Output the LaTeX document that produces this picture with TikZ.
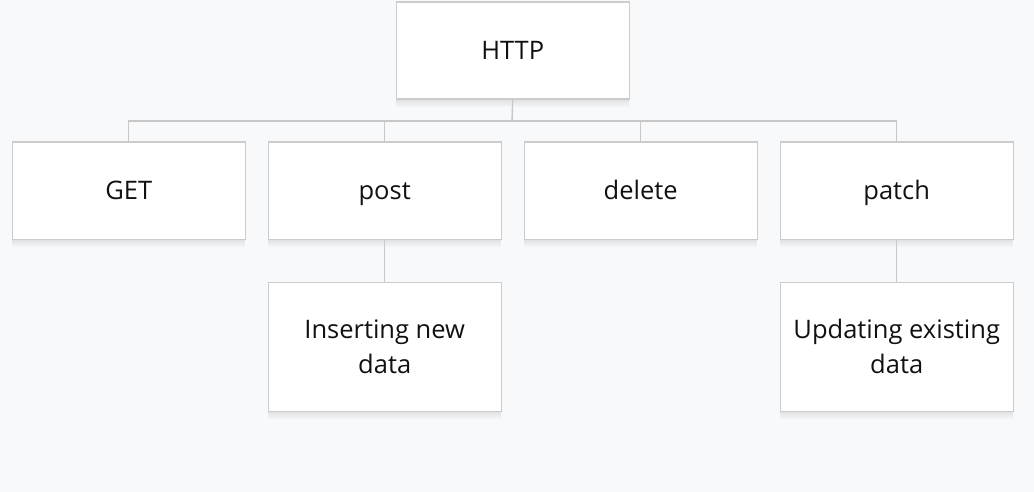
\documentclass[tikz,border=0pt]{standalone}
\usepackage{fontspec}
\setmainfont{Open Sans}
\definecolor{bgc}{HTML}{F8F9FA}
\definecolor{edgec}{HTML}{CCCCCC}
\definecolor{linec}{HTML}{C8C8C8}
\definecolor{txtc}{HTML}{111111}
\tikzset{
  softshadow/.style={preaction={fill=black, fill opacity=0.025, transform canvas={yshift=-#1}}},
  box/.style={draw=edgec, line width=1.4pt, fill=white, minimum width=233pt, minimum height=97pt,
    inner sep=0pt, align=center, text=txtc, font=\fontsize{25.5}{35}\selectfont, anchor=north west,
    softshadow=2pt, softshadow=4pt, softshadow=6pt, softshadow=8pt},
  onebox/.style={box, text height=18pt, text depth=0pt},
  tallbox/.style={box, minimum height=129pt},
  conn/.style={draw=linec, line width=1.4pt}
}
\begin{document}
\begin{tikzpicture}[x=1pt,y=-1pt]
\useasboundingbox[fill=bgc] (0,0) rectangle (1034,492);
\node[onebox] (http) at (395.5,1.5) {HTTP};
\node[onebox] (get) at (11.5,141.5) {GET};
\node[onebox] (post) at (267.5,141.5) {post};
\node[onebox] (delete) at (523.5,141.5) {delete};
\node[onebox] (patch) at (779.5,141.5) {patch};
\node[tallbox] (insert) at (267.5,281.5) {Inserting new\\data};
\node[tallbox] (update) at (779.5,281.5) {Updating existing\\data};
\coordinate (bus) at (512,121);
\draw[conn] (http.south) -- (bus);
\draw[conn] (get.north) |- (bus);
\draw[conn] (post.north) |- (bus);
\draw[conn] (delete.north) |- (bus);
\draw[conn] (patch.north) |- (bus);
\draw[conn] (post.south) -- (insert.north);
\draw[conn] (patch.south) -- (update.north);
\end{tikzpicture}
\end{document}
